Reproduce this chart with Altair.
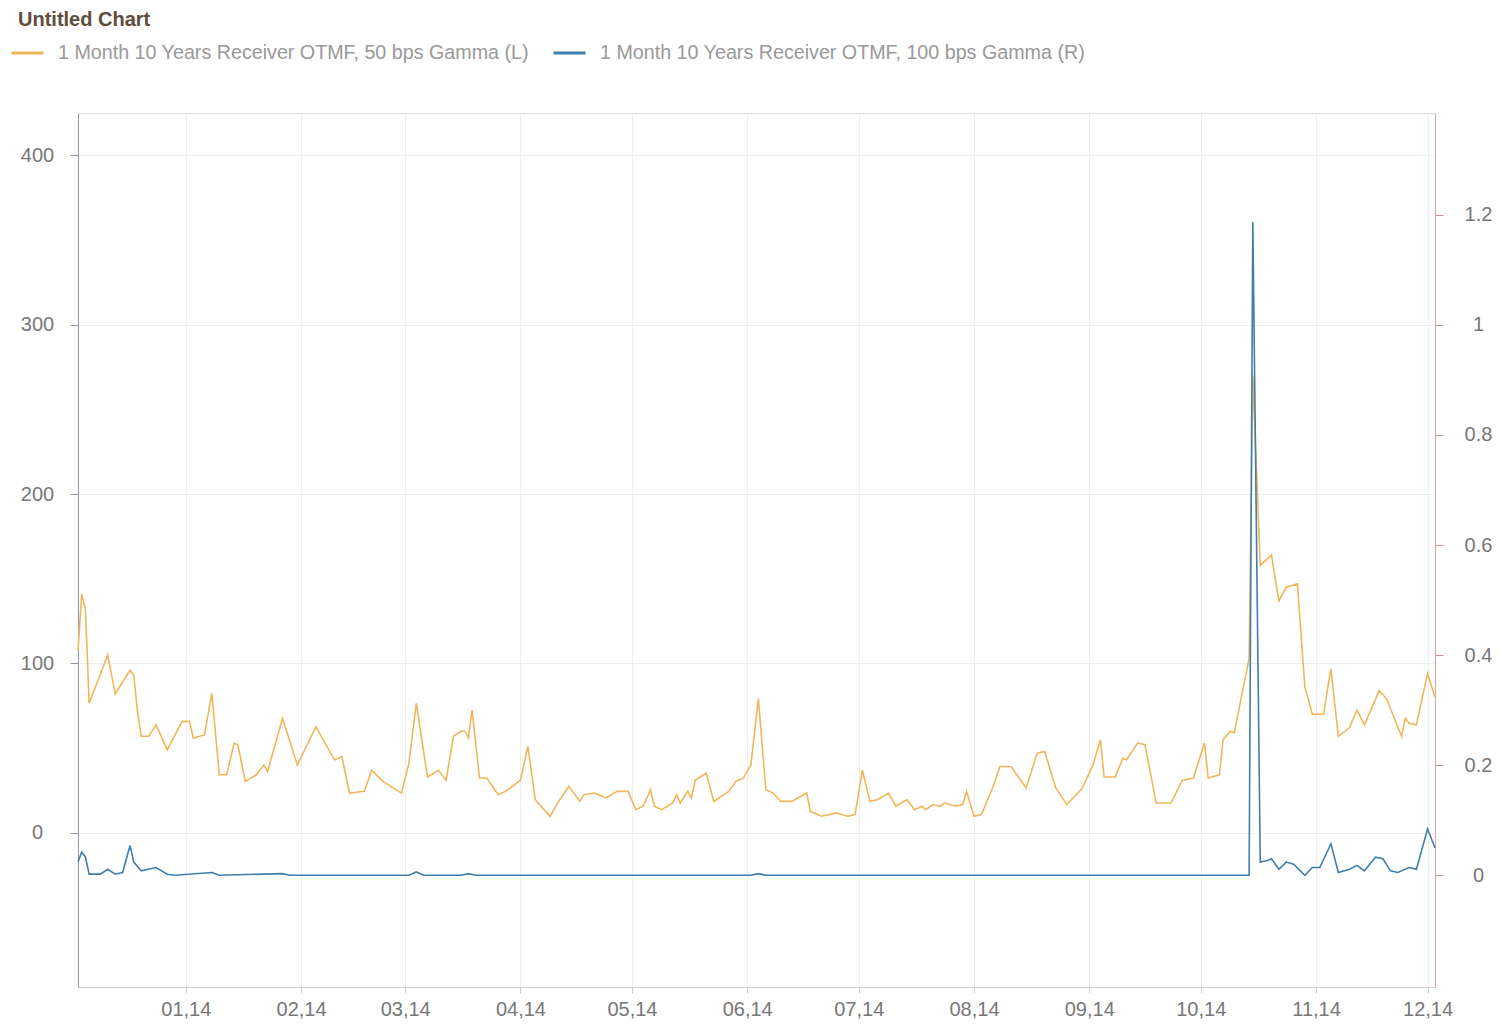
import altair as alt
import pandas as pd

TITLE = "Untitled Chart"
SERIES_L = "1 Month 10 Years Receiver OTMF, 50 bps Gamma  (L)"
SERIES_R = "1 Month 10 Years Receiver OTMF, 100 bps Gamma  (R)"

orange_dates = [
    "2013-12-03", "2013-12-04", "2013-12-05", "2013-12-06", "2013-12-11", "2013-12-13",
    "2013-12-17", "2013-12-18", "2013-12-19", "2013-12-20", "2013-12-22", "2013-12-24",
    "2013-12-27", "2013-12-31", "2014-01-02", "2014-01-03", "2014-01-06", "2014-01-08",
    "2014-01-10", "2014-01-12", "2014-01-14", "2014-01-15", "2014-01-17", "2014-01-20",
    "2014-01-22", "2014-01-23", "2014-01-27", "2014-01-31", "2014-02-05", "2014-02-10",
    "2014-02-12", "2014-02-14", "2014-02-18", "2014-02-20", "2014-02-23", "2014-02-28",
    "2014-03-02", "2014-03-04", "2014-03-07", "2014-03-10", "2014-03-12", "2014-03-14",
    "2014-03-16", "2014-03-17", "2014-03-18", "2014-03-19", "2014-03-21", "2014-03-23",
    "2014-03-26", "2014-03-28", "2014-04-01", "2014-04-03", "2014-04-05", "2014-04-09",
    "2014-04-11", "2014-04-14", "2014-04-17", "2014-04-18", "2014-04-21", "2014-04-24",
    "2014-04-27", "2014-04-30", "2014-05-02", "2014-05-04", "2014-05-06", "2014-05-07",
    "2014-05-09", "2014-05-12", "2014-05-13", "2014-05-14", "2014-05-16", "2014-05-17",
    "2014-05-18", "2014-05-21", "2014-05-23", "2014-05-27", "2014-05-29", "2014-05-31",
    "2014-06-02", "2014-06-04", "2014-06-06", "2014-06-08", "2014-06-10", "2014-06-13",
    "2014-06-17", "2014-06-18", "2014-06-21", "2014-06-25", "2014-06-28", "2014-06-30",
    "2014-07-02", "2014-07-04", "2014-07-06", "2014-07-09", "2014-07-11", "2014-07-14",
    "2014-07-16", "2014-07-18", "2014-07-19", "2014-07-21", "2014-07-23", "2014-07-24",
    "2014-07-27", "2014-07-29", "2014-07-30", "2014-08-01", "2014-08-03", "2014-08-06",
    "2014-08-08", "2014-08-11", "2014-08-15", "2014-08-18", "2014-08-20", "2014-08-23",
    "2014-08-26", "2014-08-30", "2014-09-02", "2014-09-04", "2014-09-05", "2014-09-08",
    "2014-09-10", "2014-09-11", "2014-09-14", "2014-09-16", "2014-09-19", "2014-09-23",
    "2014-09-26", "2014-09-29", "2014-10-02", "2014-10-03", "2014-10-06", "2014-10-07",
    "2014-10-09", "2014-10-10", "2014-10-14", "2014-10-15", "2014-10-17", "2014-10-18",
    "2014-10-20", "2014-10-22", "2014-10-24", "2014-10-27", "2014-10-29", "2014-10-31",
    "2014-11-03", "2014-11-05", "2014-11-07", "2014-11-10", "2014-11-12", "2014-11-14",
    "2014-11-18", "2014-11-20", "2014-11-24", "2014-11-25", "2014-11-26", "2014-11-28",
    "2014-12-01", "2014-12-03",
]
orange_values = [
    108, 141, 132, 76.5, 105, 82,
    96, 93, 71.6, 57, 57, 63.7,
    49, 65.8, 65.8, 56, 57.8, 82.4,
    34.3, 34.3, 53, 52, 30.4, 34.3,
    40, 36.3, 67.6, 40, 62.7, 43,
    45, 23.5, 24.5, 37, 30.4, 23.5,
    41, 76.5, 33, 37, 31, 57,
    60, 60, 56, 72.5, 32.4, 32.4,
    22.5, 24.5, 31, 51, 19.6, 9.8,
    17.6, 27.5, 18.6, 22.5, 23.5, 20.6,
    24.5, 24.5, 13.7, 15.7, 25.5, 15.7,
    13.7, 17.6, 22.5, 17.6, 24.5, 20.6,
    31, 35.3, 18.6, 24.5, 30.4, 32.4,
    40, 79.4, 25.5, 23.5, 18.6, 18.6,
    23.5, 12.7, 9.8, 11.8, 9.8, 10.8,
    37, 18.6, 19.6, 23.5, 15.7, 19.6,
    13.7, 15.7, 13.7, 16.7, 15.7, 17.6,
    15.7, 16.7, 24.5, 9.8, 10.8, 26.5,
    39.2, 39.2, 26.5, 47, 48, 26.5,
    16.7, 26, 40, 55, 33, 33,
    44, 43, 53, 52, 17.6, 17.6,
    31, 32.4, 53, 32.4, 34.3, 55,
    60, 59, 103, 270, 158, 160,
    164, 137, 145, 147, 86, 70,
    70, 97, 57, 62, 72.5, 63.7,
    84, 79, 57, 67.6, 64.7, 63.7,
    94, 80,
]

blue_dates = [
    "2013-12-03", "2013-12-04", "2013-12-05", "2013-12-06", "2013-12-09", "2013-12-11",
    "2013-12-13", "2013-12-15", "2013-12-17", "2013-12-18", "2013-12-20", "2013-12-24",
    "2013-12-27", "2013-12-29", "2014-01-08", "2014-01-10", "2014-01-27", "2014-01-29",
    "2014-03-02", "2014-03-04", "2014-03-06", "2014-03-16", "2014-03-18", "2014-03-20",
    "2014-06-02", "2014-06-04", "2014-06-06", "2014-10-14", "2014-10-15", "2014-10-17",
    "2014-10-19", "2014-10-20", "2014-10-22", "2014-10-24", "2014-10-26", "2014-10-29",
    "2014-10-31", "2014-11-02", "2014-11-05", "2014-11-07", "2014-11-10", "2014-11-12",
    "2014-11-14", "2014-11-17", "2014-11-19", "2014-11-21", "2014-11-23", "2014-11-26",
    "2014-11-28", "2014-12-01", "2014-12-03",
]
blue_values = [
    0.024, 0.042, 0.033, 0.002, 0.002, 0.011,
    0.002, 0.005, 0.054, 0.024, 0.008, 0.014,
    0.002, 0.0, 0.005, 0.0, 0.003, 0.0,
    0.0, 0.006, 0.0, 0.0, 0.003, 0.0,
    0.0, 0.003, 0.0, 0.0, 1.187, 0.024,
    0.027, 0.03, 0.011, 0.024, 0.02, 0.0,
    0.014, 0.014, 0.057, 0.005, 0.011, 0.018,
    0.008, 0.033, 0.03, 0.008, 0.005, 0.014,
    0.011, 0.084, 0.05,
]

x_tick_months = [1, 2, 3, 4, 5, 6, 7, 8, 9, 10, 11, 12]
left_ticks = [0, 100, 200, 300, 400]
right_ticks = [0, 0.2, 0.4, 0.6, 0.8, 1.0, 1.2]

ORANGE = "#f2b65a"
BLUE = "#3f7fae"
FONT = "Liberation Sans"

df_o = pd.DataFrame({"date": orange_dates, "value": orange_values, "series": SERIES_L})
df_b = pd.DataFrame({"date": blue_dates, "value": blue_values, "series": SERIES_R})

x_enc = alt.X(
    "date:T",
    title=None,
    scale=alt.Scale(type="utc",
                    domain=[alt.DateTime(year=2013, month=12, date=3, utc=True),
                            alt.DateTime(year=2014, month=12, date=3, utc=True)]),
    axis=alt.Axis(
        values=[alt.DateTime(year=2014, month=m, date=1, utc=True) for m in x_tick_months],
        format="%m,%y",
        grid=True, gridColor="#eeeeee",
        domainColor="#cccccc", tickColor="#cccccc", tickSize=6,
        labelFontSize=20, labelColor="#777777", labelFont=FONT, labelPadding=6,
    ),
)

color_enc = alt.Color(
    "series:N",
    scale=alt.Scale(domain=[SERIES_L, SERIES_R], range=[ORANGE, BLUE]),
    legend=alt.Legend(
        title=None, orient="none", legendX=-68, legendY=-78, direction="horizontal",
        symbolType="stroke", symbolSize=1024, symbolStrokeWidth=3,
        labelFontSize=19.7, labelColor="#999999", labelFont=FONT, labelOffset=13,
        columnPadding=12, padding=0, labelLimit=800,
    ),
)

orange = alt.Chart(df_o).mark_line(strokeWidth=1.6).encode(
    x=x_enc,
    y=alt.Y("value:Q", title=None,
            scale=alt.Scale(domain=[-91, 425], nice=False, zero=False),
            axis=alt.Axis(orient="left", values=left_ticks, grid=True, gridColor="#eeeeee",
                          domainColor="#8c98a8", tickColor="#8c98a8", tickSize=8,
                          labelAlign="center", labelPadding=33, labelFontSize=20,
                          labelColor="#777777", labelFont=FONT)),
    color=color_enc,
)

blue = alt.Chart(df_b).mark_line(strokeWidth=1.6).encode(
    x=x_enc,
    y=alt.Y("value:Q", title=None,
            scale=alt.Scale(domain=[-0.203, 1.385], nice=False, zero=False),
            axis=alt.Axis(orient="right", values=right_ticks, grid=False, format=".1~f",
                          domainColor="#e3a3a3", tickColor="#c99090", tickSize=8,
                          labelAlign="center", labelPadding=35, labelFontSize=20,
                          labelColor="#777777", labelFont=FONT)),
    color=color_enc,
)

chart = alt.layer(orange, blue).resolve_scale(y="independent").properties(
    width=1357, height=874,
    autosize=alt.AutoSizeParams(type="none"),
    padding={"left": 70, "top": 105, "right": 59, "bottom": 34},
    title=alt.TitleParams(TITLE, anchor="start", frame="group", fontSize=20,
                          fontWeight="bold", color="#5c4d3c", font=FONT, dx=-60, dy=-1),
).configure_view(stroke=None).configure(background="white")

chart.save("out.html", embed_options={"renderer": "svg", "actions": False})
